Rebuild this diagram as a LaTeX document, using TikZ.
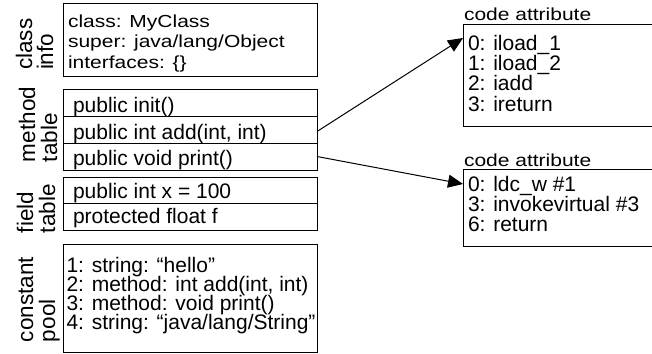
\documentclass[tikz,border=0pt]{standalone}
\usepackage{fontspec}
\setmainfont{Liberation Sans}
\usetikzlibrary{arrows.meta}
\tikzset{
  every node/.style={font=\fontsize{21}{20}\selectfont},
  box/.style={draw, line width=1pt, inner sep=0pt, outer sep=0pt, anchor=north west},
  txt/.style={anchor=base west, inner sep=0pt, outer sep=0pt},
  vlabel/.style={anchor=base west, inner sep=0pt, outer sep=0pt, rotate=90, font=\fontsize{22.5}{22}\selectfont},
  arr/.style={line width=1pt, -{Triangle[length=15pt,width=13pt]}}
}
\newcommand{\squash}[1]{\scalebox{1}[0.83]{#1}}
\begin{document}
\begin{tikzpicture}[x=1pt,y=-1pt]
\clip (0,0) rectangle (652,353);
\fill[white] (0,0) rectangle (652,353);
% class info
\node[box, minimum width=253.5pt, minimum height=72pt] (classinfo) at (63.5,4) {};
\node[txt] (ci1) at (68,28) {\squash{class: MyClass}};
\node[txt] (ci2) at (68,48) {\squash{super: java/lang/Object}};
\node[txt] (ci3) at (68,68) {\squash{interfaces: \{\}}};
\node[vlabel] (lclass) at (32,70) {class};
\node[vlabel] (linfo) at (53,70) {info};
% method table
\node[box, minimum width=253.5pt, minimum height=27pt] (minit) at (63.5,89) {};
\node[box, minimum width=253.5pt, minimum height=27pt] (madd) at (63.5,116) {};
\node[box, minimum width=253.5pt, minimum height=27pt] (mprint) at (63.5,143) {};
\node[txt] (t1) at (73,112.5) {public init()};
\node[txt] (t2) at (73,139) {public int add(int, int)};
\node[txt] (t3) at (73,165.5) {public void print()};
\node[vlabel] (lmethod) at (35,162) {method};
\node[vlabel] (ltable) at (57,162) {table};
% field table
\node[box, minimum width=253.5pt, minimum height=26pt] (fx) at (63.5,177.3) {};
\node[box, minimum width=253.5pt, minimum height=26.7pt] (ff) at (63.5,203.3) {};
\node[txt] (t4) at (73,198) {public int x = 100};
\node[txt] (t5) at (73,223.5) {protected float f};
\node[vlabel] (lfield) at (33,233) {field};
\node[vlabel] (lftable) at (55,233) {table};
% constant pool
\node[box, minimum width=253.5pt, minimum height=108pt] (cpool) at (63.5,244) {};
\node[txt] (c1) at (66.5,272) {1: string: “hello”};
\node[txt] (c2) at (66.5,291) {2: method: int add(int, int)};
\node[txt] (c3) at (66.5,310) {3: method: void print()};
\node[txt] (c4) at (66.5,329) {4: string: “java/lang/String”};
\node[vlabel] (lconst) at (33,342) {constant};
\node[vlabel] (lpool) at (55,342) {pool};
% code attributes
\node[txt] (title1) at (464,20.7) {\squash{code attribute}};
\node[box, minimum width=200pt, minimum height=101pt] (code1) at (463,25) {};
\node[txt] (k1) at (468,50) {0: iload\_1};
\node[txt] (k2) at (468,70.3) {1: iload\_2};
\node[txt] (k3) at (468,90.6) {2: iadd};
\node[txt] (k4) at (468,111) {3: ireturn};
\node[txt] (title2) at (464,166) {\squash{code attribute}};
\node[box, minimum width=200pt, minimum height=77.4pt] (code2) at (463,169.3) {};
\node[txt] (k5) at (468,191.7) {0: ldc\_w \#1};
\node[txt] (k6) at (468,211.7) {3: invokevirtual \#3};
\node[txt] (k7) at (468,231.7) {6: return};
% arrows
\draw[arr] ([yshift=-2pt]madd.east) -- ([yshift=-13pt]code1.north west);
\draw[arr] (mprint.east) -- ([yshift=-14.7pt]code2.north west);
\end{tikzpicture}
\end{document}
